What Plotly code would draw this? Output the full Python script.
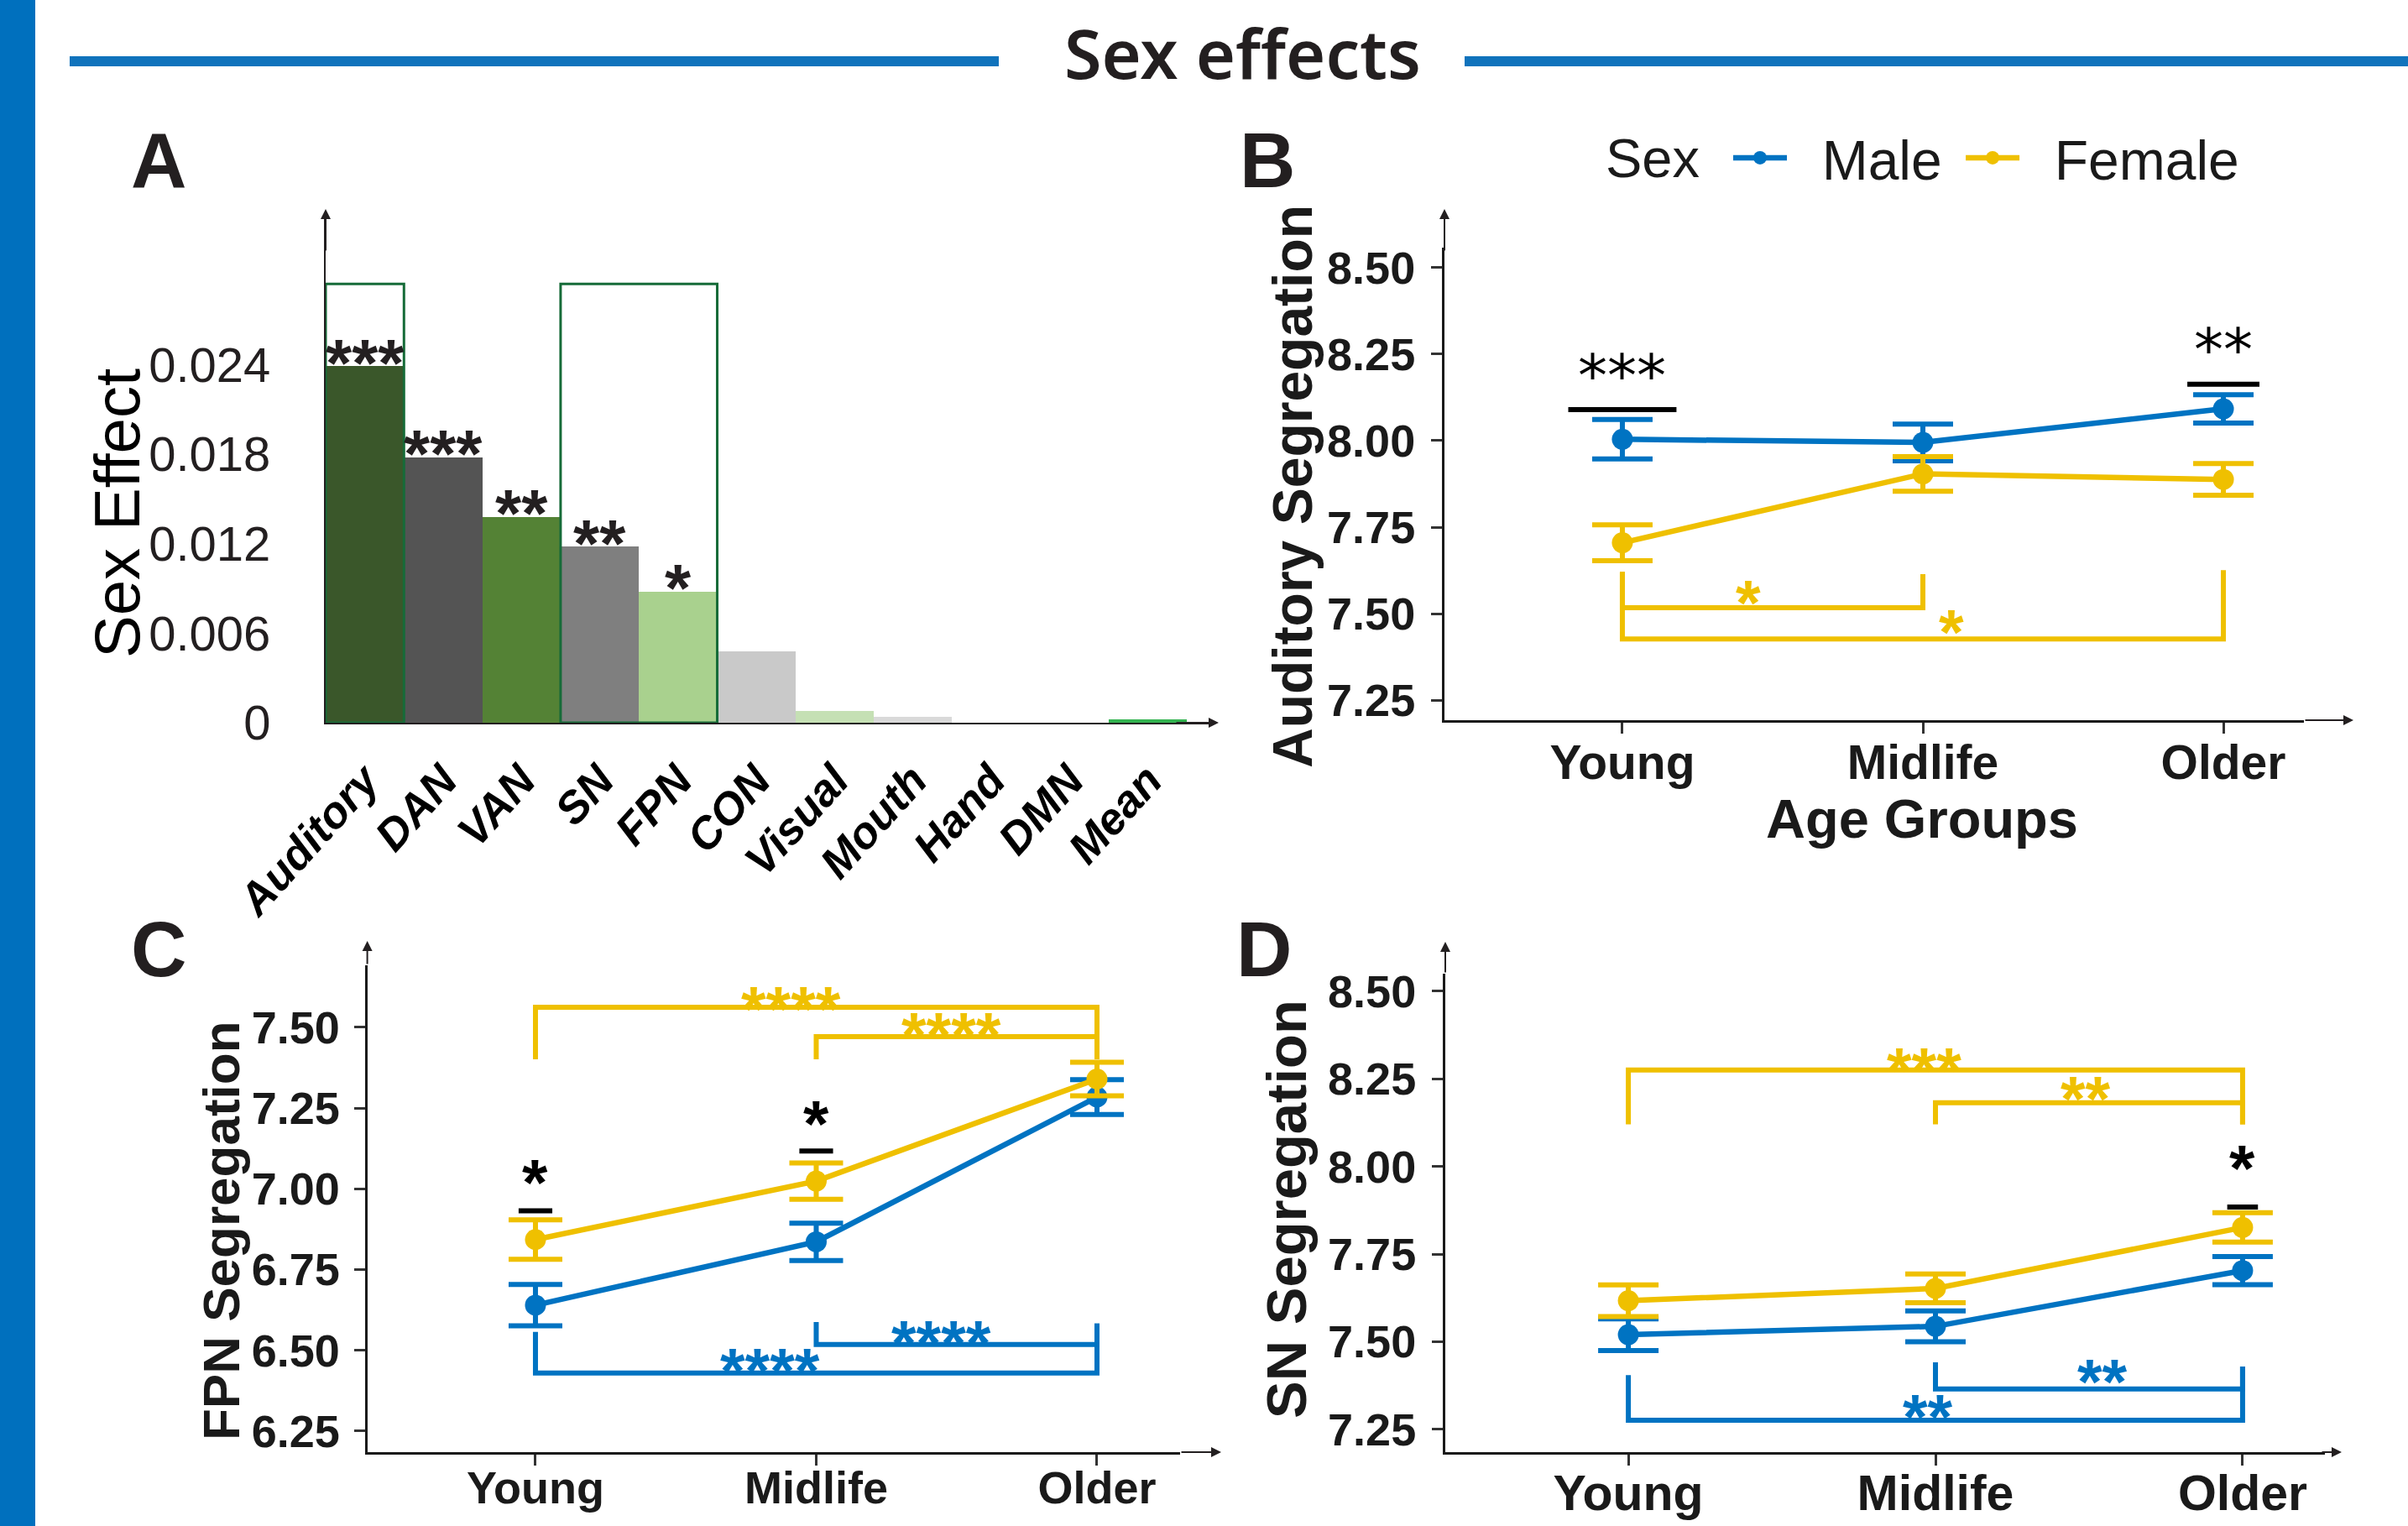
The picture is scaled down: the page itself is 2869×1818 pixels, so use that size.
import plotly.graph_objects as go

W, H = 2869, 1818

# ---------------- data ----------------
networks = ["Auditory", "DAN", "VAN", "SN", "FPN", "CON", "Visual", "Mouth", "Hand", "DMN", "Mean"]
sex_effect = [0.0239, 0.0178, 0.0138, 0.0118, 0.0088, 0.0048, 0.0008, 0.0004, 0.0, 0.0, 0.0002]
bar_colors = ["#3A572A", "#545454", "#548235", "#7F7F7F", "#A9D18E", "#C9C9C9",
              "#C5E0B4", "#D9D9D9", "#D9D9D9", "#D9D9D9", "#33B350"]
bar_sig = ["***", "***", "**", "**", "*", "", "", "", "", "", ""]
box_groups = [("Auditory", "Auditory"), ("SN", "FPN")]
box_top = 0.0294
a_tickvals = [0, 0.006, 0.012, 0.018, 0.024]
a_ticktext = ["0", "0.006", "0.012", "0.018", "0.024"]

age_groups = ["Young", "Midlife", "Older"]
sexes = ["Male", "Female"]
sex_colors = {"Male": "#0073C2", "Female": "#EFC000"}

aud_mean = {"Male": [8.004, 7.995, 8.092], "Female": [7.705, 7.904, 7.888]}
aud_se = {"Male": [0.057, 0.053, 0.041], "Female": [0.052, 0.050, 0.046]}
fpn_mean = {"Male": [6.640, 6.836, 7.284], "Female": [6.843, 7.024, 7.340]}
fpn_se = {"Male": [0.064, 0.058, 0.054], "Female": [0.061, 0.056, 0.052]}
sn_mean = {"Male": [7.520, 7.544, 7.703], "Female": [7.617, 7.652, 7.826]}
sn_se = {"Male": [0.045, 0.044, 0.040], "Female": [0.045, 0.041, 0.042]}

yt_aud = [7.25, 7.50, 7.75, 8.00, 8.25, 8.50]
yt_fpn = [6.25, 6.50, 6.75, 7.00, 7.25, 7.50]
yt_sn = [7.25, 7.50, 7.75, 8.00, 8.25, 8.50]

# sex-difference marks: group, bar y, half width, label, label y
aud_sex_sig = [("Young", 8.090, 0.18, "***", 8.225), ("Older", 8.163, 0.12, "**", 8.300)]
fpn_sex_sig = [("Young", 6.932, 0.06, "*", 7.060), ("Midlife", 7.117, 0.06, "*", 7.244)]
sn_sex_sig = [("Older", 7.884, 0.05, "*", 8.033)]

# age-group brackets: sex, from, to, tip-from y, tip-to y, bracket y, label, label x, label y
aud_brackets = [("Female", "Young", "Midlife", 7.621, 7.614, 7.517, "*", 0.42, 7.570),
                ("Female", "Young", "Older", 7.621, 7.626, 7.427, "*", 1.095, 7.486)]
fpn_brackets = [("Female", "Young", "Older", 7.401, 7.401, 7.562, "****", 0.909, 7.598),
                ("Female", "Midlife", "Older", 7.401, 7.401, 7.471, "****", 1.480, 7.518),
                ("Male", "Young", "Older", 6.557, 6.583, 6.430, "****", 0.837, 6.479),
                ("Male", "Midlife", "Older", 6.588, 6.583, 6.518, "****", 1.444, 6.565)]
sn_brackets = [("Female", "Young", "Older", 8.120, 8.120, 8.275, "***", 0.964, 8.314),
               ("Female", "Midlife", "Older", 8.120, 8.120, 8.182, "**", 1.489, 8.232),
               ("Male", "Young", "Older", 7.405, 7.429, 7.276, "**", 0.975, 7.324),
               ("Male", "Midlife", "Older", 7.441, 7.429, 7.365, "**", 1.544, 7.425)]

# ---------------- helpers ----------------
def fx(p):
    return p / W


def fy(p):
    return 1 - p / H


FONT = "Liberation Sans"
DARK = "#1a1a1a"
NB = "\u00a0"
fig = go.Figure()
annotations = []
shapes = []

# ---------------- panel A ----------------
idx_net = list(range(len(networks)))
fig.add_trace(go.Bar(x=idx_net, y=sex_effect, width=1.0,
                     marker=dict(color=bar_colors, line=dict(width=0)),
                     xaxis="x", yaxis="y", showlegend=False, hoverinfo="skip"))
for i, (v, s) in enumerate(zip(sex_effect, bar_sig)):
    if s:
        annotations.append(dict(x=i, y=v, xref="x", yref="y", text=s, showarrow=False,
                                yanchor="middle", xanchor="center", yshift=4,
                                font=dict(family=FONT, size=80, color="#231f20", weight="bold")))
for a, b in box_groups:
    shapes.append(dict(type="rect", xref="x", yref="y",
                       x0=networks.index(a) - 0.5, x1=networks.index(b) + 0.5,
                       y0=0, y1=box_top, line=dict(color="#166B38", width=3),
                       fillcolor="rgba(0,0,0,0)", layer="above"))

# ---------------- panels B, C, D ----------------
idx_age = list(range(len(age_groups)))
panels = [
    ("x2", "y2", aud_mean, aud_se, aud_sex_sig, aud_brackets, True, 36, "DejaVu Sans", 70, "normal"),
    ("x3", "y3", fpn_mean, fpn_se, fpn_sex_sig, fpn_brackets, False, 32, FONT, 78, "bold"),
    ("x4", "y4", sn_mean, sn_se, sn_sex_sig, sn_brackets, False, 36, FONT, 78, "bold"),
]
STAR_SIZE = 76
for xa, ya, means, ses, sexsig, brackets, legend, capw, sfam, ssize, sweight in panels:
    for sx in sexes:
        fig.add_trace(go.Scatter(
            x=idx_age, y=means[sx], mode="lines+markers", name=NB * 2 + sx + NB,
            line=dict(color=sex_colors[sx], width=6.5),
            marker=dict(color=sex_colors[sx], size=25),
            error_y=dict(type="data", array=ses[sx], color=sex_colors[sx], thickness=6, width=capw),
            xaxis=xa, yaxis=ya, showlegend=legend, legendgroup=sx, hoverinfo="skip"))
    for sx, g0, g1, t0, t1, by, lab, lx, ly in brackets:
        i0, i1 = age_groups.index(g0), age_groups.index(g1)
        fig.add_trace(go.Scatter(x=[i0, i0, i1, i1], y=[t0, by, by, t1], mode="lines",
                                 line=dict(color=sex_colors[sx], width=6),
                                 xaxis=xa, yaxis=ya, showlegend=False, hoverinfo="skip"))
        annotations.append(dict(x=lx, y=ly, xref=xa, yref=ya, text=lab, showarrow=False,
                                yanchor="middle", xanchor="center", yshift=-0.207 * STAR_SIZE,
                                font=dict(family=FONT, size=STAR_SIZE, color=sex_colors[sx], weight="bold")))
    for g, by, hw, lab, ly in sexsig:
        i = age_groups.index(g)
        fig.add_trace(go.Scatter(x=[i - hw, i + hw], y=[by, by], mode="lines",
                                 line=dict(color="black", width=6),
                                 xaxis=xa, yaxis=ya, showlegend=False, hoverinfo="skip"))
        shift = -0.224 * ssize if sfam.startswith("DejaVu") else -0.207 * ssize
        annotations.append(dict(x=i, y=ly, xref=xa, yref=ya, text=lab, showarrow=False,
                                yanchor="middle", xanchor="center", yshift=shift,
                                font=dict(family=sfam, size=ssize, color="black", weight=sweight)))

# ---------------- axes ----------------
def yaxis_line(dom, rng, tickvals, size, standoff, lw=3):
    return dict(domain=dom, range=rng, tickvals=tickvals, automargin=False,
                ticktext=["%.2f" % t for t in tickvals],
                showgrid=False, zeroline=False, showline=True, linecolor=DARK, linewidth=lw,
                ticks="outside", ticklen=13, tickwidth=3, tickcolor="#333333",
                ticklabelstandoff=standoff,
                tickfont=dict(family=FONT, size=size, color=DARK, weight="bold"))


def xaxis_line(dom, rng, anchor, size, standoff):
    return dict(domain=dom, range=rng, anchor=anchor, tickvals=idx_age, ticktext=age_groups,
                automargin=False,
                showgrid=False, zeroline=False, showline=True, linecolor=DARK, linewidth=3,
                ticks="outside", ticklen=13, tickwidth=3, tickcolor="#333333",
                ticklabelstandoff=standoff,
                tickfont=dict(family=FONT, size=size, color=DARK, weight="bold"))


layout_axes = dict(
    xaxis=dict(domain=[fx(388), fx(1440)], range=[-0.5, 10.775], anchor="y", automargin=False,
               tickvals=idx_net, ticktext=networks, tickangle=-48,
               showgrid=False, zeroline=False, showline=True, linecolor="#231f20", linewidth=2,
               ticks="", ticklabelstandoff=14,
               tickfont=dict(family=FONT, size=53, color="black", weight="bold", style="italic")),
    yaxis=dict(domain=[fy(861), fy(260)], range=[0, 0.0338], anchor="x", automargin=False,
               tickvals=a_tickvals, ticktext=a_ticktext,
               showgrid=False, zeroline=False, showline=True, linecolor="#231f20", linewidth=2,
               ticks="", ticklabelstandoff=52,
               tickfont=dict(family=FONT, size=58, color="#231f20")),
    xaxis2=xaxis_line([fx(1721), fx(2745)], [-0.592, 2.268], "y2", 57, -14),
    yaxis2=dict(yaxis_line([fy(858), fy(295)], [7.192, 8.558], yt_aud, 54, 8), anchor="x2"),
    xaxis3=xaxis_line([fx(437.6), fx(1406)], [-0.599, 2.296], "y3", 54, -20),
    yaxis3=dict(yaxis_line([fy(1730), fy(1150)], [6.185, 7.692], yt_fpn, 54, 6), anchor="x3"),
    xaxis4=xaxis_line([fx(1722), fx(2770)], [-0.596, 2.268], "y4", 59, -18),
    yaxis4=dict(yaxis_line([fy(1730), fy(1160)], [7.185, 8.55], yt_sn, 54, 8), anchor="x4"),
)

# arrowheads at axis ends (tip px, base px)
def arrow(tipx, tipy, basex, basey):
    annotations.append(dict(x=fx(tipx), y=fy(tipy), xref="paper", yref="paper",
                            ax=basex - tipx, ay=basey - tipy, axref="pixel", ayref="pixel",
                            text="", showarrow=True, arrowhead=2, arrowsize=1.2,
                            arrowwidth=2, arrowcolor="#231f20", standoff=0, startstandoff=0))


arrow(388, 249, 388, 300)
arrow(1452, 861, 1400, 861)
arrow(1721, 249, 1721, 300)
arrow(2804, 858, 2745, 858)
arrow(437.6, 1121, 437.6, 1150)
arrow(1455, 1730, 1406, 1730)
arrow(1722, 1122, 1722, 1160)
arrow(2790, 1730, 2765, 1730)

# ---------------- titles / labels ----------------
def txt(x, y, s, size, weight="normal", angle=0, family=FONT, color="#231f20", xanchor="center"):
    annotations.append(dict(x=fx(x), y=fy(y), xref="paper", yref="paper", text=s,
                            showarrow=False, xanchor=xanchor, yanchor="middle", textangle=angle,
                            font=dict(family=family, size=size, color=color, weight=weight)))


txt(1480, 62, "Sex effects", 81, weight=600, family="Noto Sans")
txt(189, 191, "A", 92, "bold")
txt(1510, 191, "B", 92, "bold")
txt(189, 1131, "C", 92, "bold")
txt(1506, 1131, "D", 92, "bold")
txt(139, 612, "Sex Effect", 76, angle=-90, color="black")
txt(1540, 579, "Auditory Segregation", 66, "bold", angle=-90, color=DARK)
txt(2290, 975, "Age Groups", 65, "bold", color=DARK)
txt(263, 1466, "FPN Segregation", 62, "bold", angle=-90, color=DARK)
txt(1532, 1441, "SN Segregation", 67, "bold", angle=-90, color=DARK)
txt(1911, 188, "Sex", 65, color=DARK, xanchor="left")

# decorative frame: left band and title rules
shapes.append(dict(type="rect", xref="paper", yref="paper", x0=0, x1=fx(42), y0=0, y1=1,
                   fillcolor="#0070BE", line=dict(width=0), layer="below"))
shapes.append(dict(type="line", xref="paper", yref="paper", x0=fx(83), x1=fx(1190),
                   y0=fy(73), y1=fy(73), line=dict(color="#1073BC", width=12)))
shapes.append(dict(type="line", xref="paper", yref="paper", x0=fx(1745), x1=1,
                   y0=fy(73), y1=fy(73), line=dict(color="#1073BC", width=12)))

fig.update_layout(
    width=W, height=H, margin=dict(l=0, r=0, t=0, b=0, pad=0, autoexpand=False),
    paper_bgcolor="white", plot_bgcolor="white", bargap=0,
    font=dict(family=FONT, color=DARK),
    annotations=annotations, shapes=shapes,
    legend=dict(orientation="h", x=fx(2060), y=fy(188), xanchor="left", yanchor="middle",
                font=dict(family=FONT, size=66, color=DARK), itemwidth=64,
                bgcolor="rgba(0,0,0,0)"),
    **layout_axes,
)

fig.write_html("out.html")
